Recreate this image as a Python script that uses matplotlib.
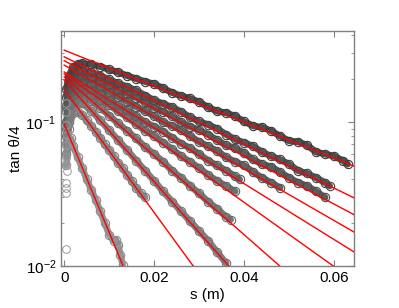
import matplotlib
matplotlib.use("Agg")
import matplotlib.pyplot as plt
import numpy as np

plt.rcParams['font.family'] = ['Liberation Sans', 'DejaVu Sans']
plt.rcParams['mathtext.fontset'] = 'custom'
plt.rcParams['mathtext.rm'] = 'Liberation Sans'
plt.rcParams['mathtext.it'] = 'Liberation Sans:italic'

# ---- fit lines: tan(theta)/4 = a * 10**(-b*s) ----
fit_a = [0.316, 0.284, 0.267, 0.249, 0.223, 0.216, 0.206, 0.196, 0.169, 0.097]
fit_b = [12.5, 15.2, 16.6, 18.0, 19.4, 22.3, 27.4, 35.3, 42.8, 75.3]

# ---- measured series ----
s1 = [0.0005, 0.001, 0.002, 0.003, 0.004, 0.006, 0.008, 0.010, 0.012, 0.014, 0.016, 0.018, 0.020,
      0.022, 0.024, 0.026, 0.028, 0.030, 0.032, 0.034, 0.036, 0.038, 0.040, 0.042, 0.044, 0.046,
      0.048, 0.050, 0.052, 0.054, 0.056, 0.058, 0.060, 0.062, 0.063]
v1 = [0.17, 0.21, 0.24, 0.252, 0.256, 0.252, 0.243, 0.232, 0.222, 0.210, 0.200, 0.191, 0.184,
      0.172, 0.160, 0.152, 0.146, 0.138, 0.127, 0.119, 0.116, 0.110, 0.101, 0.094, 0.092, 0.087,
      0.080, 0.074, 0.073, 0.069, 0.062, 0.060, 0.058, 0.054, 0.051]

s2 = [0.0005, 0.001, 0.002, 0.003, 0.004, 0.006, 0.008, 0.010, 0.012, 0.014, 0.016, 0.018, 0.020,
      0.022, 0.024, 0.026, 0.028, 0.030, 0.032, 0.034, 0.036, 0.038, 0.040, 0.042, 0.044, 0.046,
      0.048, 0.050, 0.052, 0.054, 0.056, 0.058, 0.059]
v2 = [0.15, 0.19, 0.215, 0.225, 0.226, 0.222, 0.210, 0.198, 0.186, 0.176, 0.166, 0.153, 0.142,
      0.134, 0.127, 0.118, 0.108, 0.101, 0.096, 0.090, 0.082, 0.076, 0.072, 0.068, 0.062, 0.058,
      0.055, 0.051, 0.046, 0.044, 0.041, 0.038, 0.036]

s3 = [0.0005, 0.001, 0.002, 0.003, 0.004, 0.006, 0.008, 0.010, 0.012, 0.014, 0.016, 0.018, 0.020,
      0.022, 0.024, 0.026, 0.028, 0.030, 0.032, 0.034, 0.036, 0.038, 0.040, 0.042, 0.044, 0.046,
      0.048, 0.050, 0.052, 0.054, 0.056, 0.058]
v3 = [0.13, 0.17, 0.195, 0.205, 0.207, 0.203, 0.193, 0.181, 0.168, 0.158, 0.148, 0.137, 0.126,
      0.118, 0.110, 0.100, 0.093, 0.088, 0.082, 0.075, 0.069, 0.066, 0.061, 0.055, 0.051, 0.049,
      0.045, 0.041, 0.038, 0.036, 0.033, 0.030]

s4 = [0.0005, 0.001, 0.002, 0.003, 0.004, 0.006, 0.008, 0.010, 0.012, 0.014, 0.016, 0.018, 0.020,
      0.022, 0.024, 0.026, 0.028, 0.030, 0.032, 0.034, 0.036, 0.038, 0.040, 0.042, 0.044, 0.046, 0.048]
v4 = [0.12, 0.16, 0.18, 0.188, 0.19, 0.183, 0.174, 0.162, 0.150, 0.140, 0.128, 0.119, 0.110,
      0.100, 0.094, 0.088, 0.080, 0.073, 0.068, 0.063, 0.057, 0.053, 0.050, 0.045, 0.041, 0.038, 0.035]

s5 = [0.0005, 0.001, 0.002, 0.003, 0.004, 0.006, 0.008, 0.010, 0.012, 0.014, 0.016, 0.018, 0.020,
      0.022, 0.024, 0.026, 0.028, 0.030, 0.032, 0.034, 0.036, 0.038, 0.039]
v5 = [0.10, 0.14, 0.165, 0.172, 0.173, 0.167, 0.156, 0.143, 0.131, 0.121, 0.110, 0.100, 0.093,
      0.086, 0.078, 0.071, 0.066, 0.060, 0.054, 0.050, 0.046, 0.042, 0.040]

s6 = [0.0005, 0.001, 0.002, 0.003, 0.004, 0.006, 0.008, 0.010, 0.012, 0.014, 0.016, 0.018, 0.020,
      0.022, 0.024, 0.026, 0.028, 0.030, 0.032, 0.034, 0.036, 0.038]
v6 = [0.09, 0.12, 0.15, 0.16, 0.162, 0.155, 0.143, 0.131, 0.119, 0.108, 0.097, 0.087, 0.080,
      0.072, 0.065, 0.058, 0.053, 0.048, 0.043, 0.039, 0.036, 0.033]

s7 = [0.0005, 0.001, 0.002, 0.003, 0.004, 0.006, 0.008, 0.010, 0.012, 0.014, 0.016, 0.018, 0.020,
      0.022, 0.024, 0.026, 0.028, 0.030, 0.032, 0.034, 0.036, 0.037]
v7 = [0.08, 0.11, 0.14, 0.148, 0.150, 0.140, 0.126, 0.111, 0.098, 0.087, 0.077, 0.067, 0.060,
      0.053, 0.046, 0.041, 0.036, 0.032, 0.028, 0.025, 0.022, 0.021]

s8 = [0.0005, 0.001, 0.002, 0.003, 0.004, 0.006, 0.008, 0.010, 0.012, 0.014, 0.016, 0.018, 0.020,
      0.022, 0.024, 0.026, 0.028, 0.030, 0.032, 0.034, 0.036]
v8 = [0.07, 0.10, 0.13, 0.135, 0.135, 0.120, 0.103, 0.088, 0.075, 0.064, 0.054, 0.046, 0.039,
      0.033, 0.028, 0.024, 0.0205, 0.0175, 0.015, 0.0125, 0.0105]

s9 = [0.0005, 0.001, 0.002, 0.003, 0.004, 0.005, 0.006, 0.007, 0.008, 0.009, 0.010, 0.011, 0.012,
      0.013, 0.014, 0.015, 0.016, 0.017, 0.018]
v9 = [0.06, 0.09, 0.115, 0.118, 0.112, 0.103, 0.094, 0.086, 0.078, 0.070, 0.064, 0.058, 0.052,
      0.048, 0.043, 0.039, 0.035, 0.032, 0.030]

s10 = [0.0005, 0.001, 0.0015, 0.002, 0.003, 0.004, 0.005, 0.006, 0.007, 0.008, 0.009, 0.010,
       0.011, 0.0115, 0.012, 0.0125, 0.013]
v10 = [0.05, 0.075, 0.077, 0.068, 0.057, 0.048, 0.040, 0.034, 0.029, 0.024, 0.020, 0.0165,
       0.0150, 0.0152, 0.0140, 0.0120, 0.0102]

early_s = [0.0004, 0.0005, 0.0004, 0.0006, 0.0005, 0.0004, 0.0005, 0.0006, 0.0004, 0.0005, 0.0005, 0.0005]
early_v = [0.135, 0.118, 0.095, 0.081, 0.069, 0.057, 0.050, 0.046, 0.038, 0.035, 0.032, 0.0131]

series_s = [s1, s2, s3, s4, s5, s6, s7, s8, s9, s10]
series_v = [v1, v2, v3, v4, v5, v6, v7, v8, v9, v10]
grays = ['#3a3a3a', '#424242', '#4a4a4a', '#515151', '#585858', '#606060',
         '#686868', '#727272', '#7c7c7c', '#8a8a8a']

fig = plt.figure(figsize=(3.99, 3.08), dpi=100)
ax = fig.add_axes([0.153, 0.136, 0.734, 0.763])

for s, v, c in zip(series_s, series_v, grays):
    ax.plot(s, v, '-', color=c, lw=4.8, alpha=0.9, solid_capstyle='round', zorder=2)
    ax.plot(s, v, 'o', mfc='none', mec=c, ms=6, mew=0.8, zorder=2)
ax.plot(early_s, early_v, 'o', mfc='none', mec='#9a9a9a', ms=5.5, mew=0.7, zorder=2)

xfit = np.linspace(0, 0.0644, 200)
for a, b in zip(fit_a, fit_b):
    ax.plot(xfit, a * 10 ** (-b * xfit), '-', color='#ff0000', lw=1.0, zorder=3)

ax.set_yscale('log')
ax.set_xlim(-0.0007, 0.0644)
ax.set_ylim(0.01, 0.4285)
ax.set_xticks([0, 0.02, 0.04, 0.06])
ax.set_xticklabels(['0', '0.02', '0.04', '0.06'])
ax.tick_params(which='both', direction='in', top=True, right=True, colors='#808080',
               labelcolor='black', labelsize=11)
ax.tick_params(which='major', length=4)
ax.tick_params(which='minor', length=2.5)
for sp in ax.spines.values():
    sp.set_color('#808080')
    sp.set_linewidth(1.0)
ax.set_xlabel('s (m)', fontsize=11, labelpad=2)
ax.set_ylabel('tan θ/4', fontsize=11, labelpad=2)

fig.savefig('out.png', dpi=100)
